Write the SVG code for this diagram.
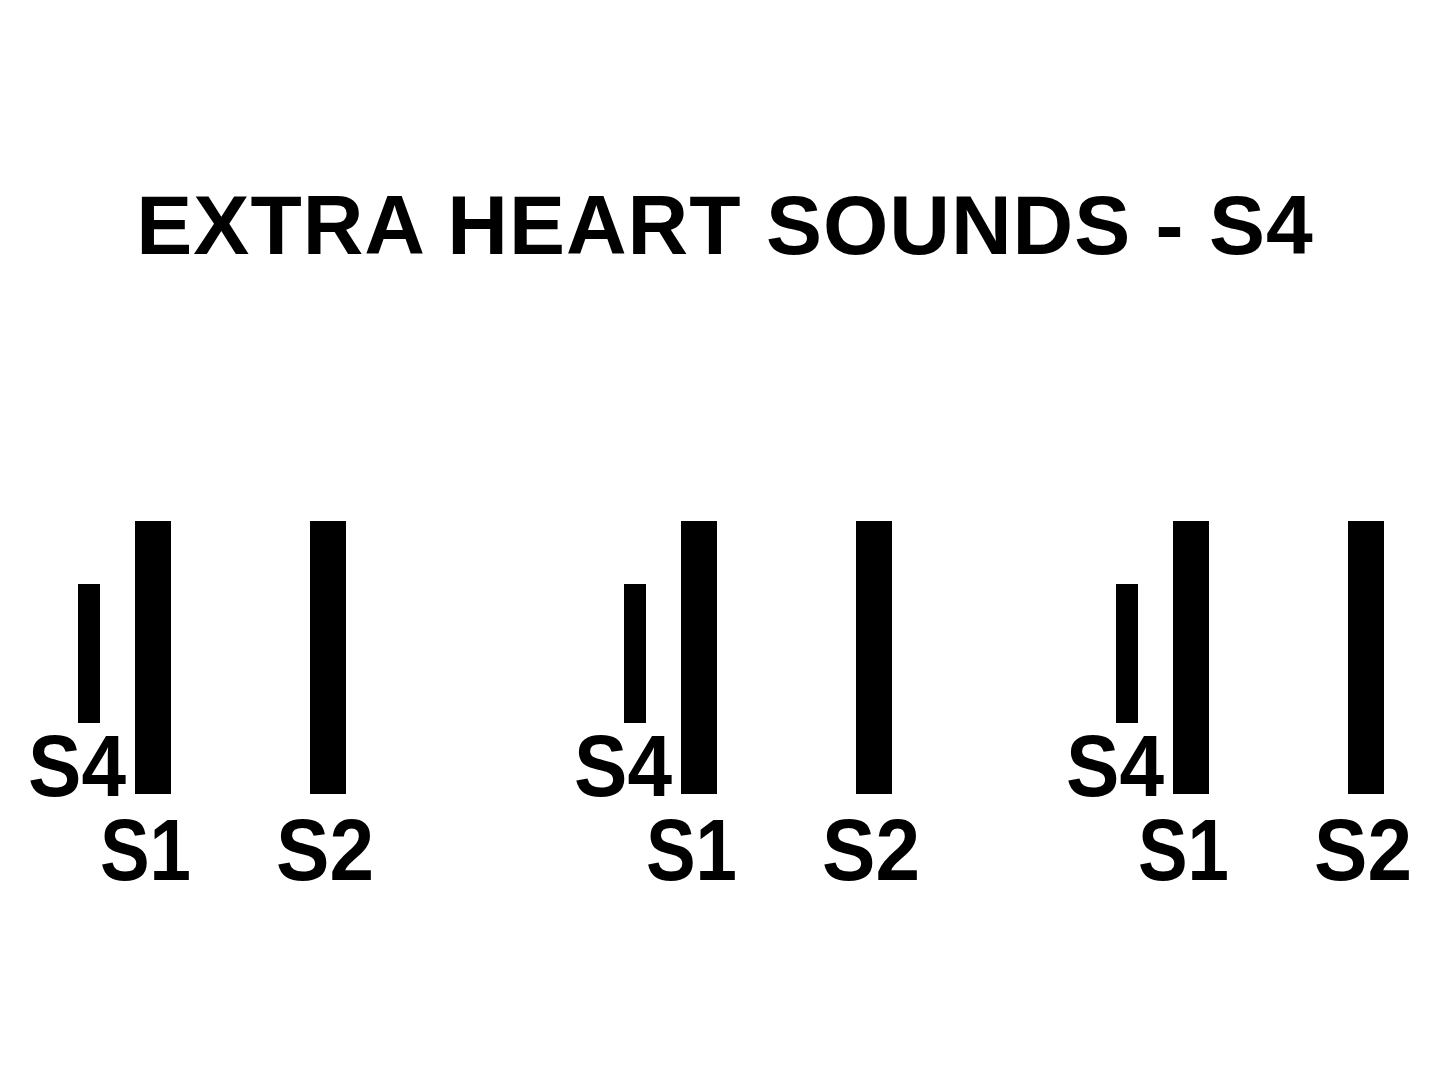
<svg xmlns="http://www.w3.org/2000/svg" width="1440" height="1080" viewBox="0 0 1440 1080">
<style>
text{font-family:"Liberation Sans",Arial,sans-serif;font-weight:bold;fill:#000}
.t{font-size:84px;letter-spacing:1px}
.l{font-size:87px}
.b{fill:#000}
</style>
<rect width="1440" height="1080" fill="#fff"/>
<text class="t" x="725" y="254" text-anchor="middle">EXTRA HEART SOUNDS - S4</text>
<g id="cycle1">
<rect class="b" x="78" y="584" width="22" height="139"/>
<rect class="b" x="135" y="521" width="36" height="273"/>
<rect class="b" x="310" y="521" width="36" height="273"/>
<text class="l" x="28" y="796" textLength="98" lengthAdjust="spacingAndGlyphs">S4</text>
<text class="l" x="100" y="880" textLength="91" lengthAdjust="spacingAndGlyphs">S1</text>
<text class="l" x="276" y="880" textLength="98" lengthAdjust="spacingAndGlyphs">S2</text>
</g>
<g id="cycle2" transform="translate(546,0)">
<rect class="b" x="78" y="584" width="22" height="139"/>
<rect class="b" x="135" y="521" width="36" height="273"/>
<rect class="b" x="310" y="521" width="36" height="273"/>
<text class="l" x="28" y="796" textLength="98" lengthAdjust="spacingAndGlyphs">S4</text>
<text class="l" x="100" y="880" textLength="91" lengthAdjust="spacingAndGlyphs">S1</text>
<text class="l" x="276" y="880" textLength="98" lengthAdjust="spacingAndGlyphs">S2</text>
</g>
<g id="cycle3" transform="translate(1038,0)">
<rect class="b" x="78" y="584" width="22" height="139"/>
<rect class="b" x="135" y="521" width="36" height="273"/>
<rect class="b" x="310" y="521" width="36" height="273"/>
<text class="l" x="28" y="796" textLength="98" lengthAdjust="spacingAndGlyphs">S4</text>
<text class="l" x="100" y="880" textLength="91" lengthAdjust="spacingAndGlyphs">S1</text>
<text class="l" x="276" y="880" textLength="98" lengthAdjust="spacingAndGlyphs">S2</text>
</g>
</svg>
